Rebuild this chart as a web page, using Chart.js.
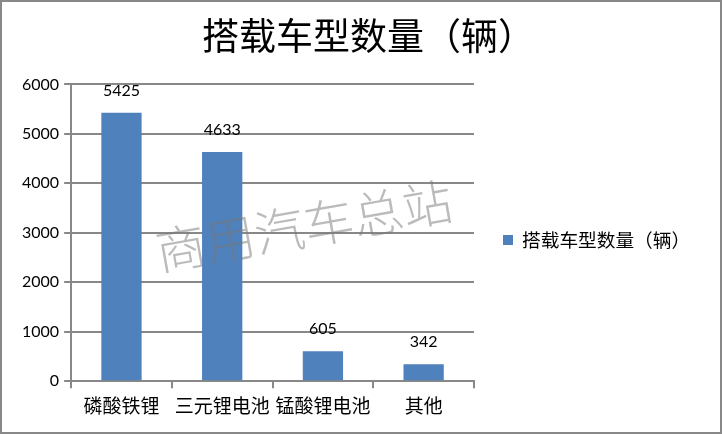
<!DOCTYPE html>
<html>
<head>
<meta charset="utf-8">
<script src="https://cdn.jsdelivr.net/npm/chart.js@4"></script>
<style>
  html, body { margin: 0; padding: 0; background: #fff; }
  #wrap { width: 722px; height: 434px; box-sizing: border-box; border: 2px solid #888; background: #fff; }
</style>
</head>
<body>
<div id="wrap"><canvas id="grafico"></canvas></div>
<script>
const categorias = ["磷酸铁锂", "三元锂电池", "锰酸锂电池", "其他"];
const cantidades = [5425, 4633, 605, 342];
const ticksY = [0, 1000, 2000, 3000, 4000, 5000, 6000];
const titulo = "搭载车型数量（辆）";
const marcaAgua = "商用汽车总站";

const cjk = '"Noto Sans CJK SC", sans-serif';
const num = 'Lato, "Liberation Sans", sans-serif';
const azul = "#4F81BD";

// etiquetas encima de cada barra
const etiquetas = {
  id: "etiquetas",
  afterDatasetsDraw(chart) {
    const ctx = chart.ctx;
    const meta = chart.getDatasetMeta(0);
    ctx.save();
    ctx.font = "16px " + num;
    ctx.fillStyle = "#000";
    ctx.textAlign = "center";
    ctx.textBaseline = "middle";
    meta.data.forEach((bar, i) => {
      ctx.fillText(String(cantidades[i]), bar.x, bar.y - 22);
    });
    ctx.restore();
  }
};

// leyenda a la derecha (la nativa queda recortada por el ancho máximo)
const leyenda = {
  id: "leyenda",
  afterDraw(chart) {
    const ctx = chart.ctx;
    const x = chart.chartArea.right + 29;
    const y = 238;
    ctx.save();
    ctx.fillStyle = azul;
    ctx.fillRect(x, y - 5, 10, 10);
    ctx.font = "18.7px " + cjk;
    ctx.fillStyle = "#000";
    ctx.textAlign = "left";
    ctx.textBaseline = "middle";
    ctx.fillText(chart.data.datasets[0].label, x + 19, y);
    ctx.restore();
  }
};

// marca de agua
const agua = {
  id: "agua",
  afterDraw(chart) {
    const ctx = chart.ctx;
    ctx.save();
    ctx.translate(302, 224);
    ctx.rotate(-10 * Math.PI / 180);
    ctx.font = "300 50px " + cjk;
    ctx.fillStyle = "rgba(120,120,120,0.5)";
    ctx.textAlign = "center";
    ctx.textBaseline = "middle";
    ctx.fillText(marcaAgua, 0, 0);
    ctx.restore();
  }
};

function dibujar() {
  new Chart(document.getElementById("grafico").getContext("2d"), {
    type: "bar",
    data: {
      labels: categorias,
      datasets: [{
        label: titulo,
        data: cantidades,
        backgroundColor: azul,
        categoryPercentage: 1,
        barPercentage: 0.4
      }]
    },
    options: {
      responsive: true,
      maintainAspectRatio: false,
      animation: false,
      layout: { padding: { left: 15, right: 0, top: 0, bottom: 9 } },
      plugins: {
        title: {
          display: true,
          text: titulo,
          color: "#000",
          font: { family: cjk, size: 37, weight: "normal" },
          padding: { top: 12, bottom: 26 }
        },
        legend: { display: false },
        tooltip: { enabled: false }
      },
      scales: {
        x: {
          grid: { drawOnChartArea: false, drawTicks: true, tickLength: 7, color: "#888", lineWidth: 2 },
          border: { color: "#888", width: 2 },
          ticks: { color: "#000", font: { family: cjk, size: 19 }, maxRotation: 0, autoSkip: false, padding: 6 }
        },
        y: {
          min: 0,
          max: 6000,
          afterBuildTicks(axis) { axis.ticks = ticksY.map(v => ({ value: v })); },
          grid: { color: "#888", lineWidth: 2, tickLength: 7 },
          border: { color: "#888", width: 2 },
          ticks: { color: "#000", font: { family: num, size: 16 }, padding: 5, callback: v => String(v) }
        },
        // espacio reservado para la leyenda
        espacio: {
          type: "linear",
          position: "right",
          grid: { display: false },
          border: { display: false },
          ticks: { display: false },
          afterFit(axis) { axis.width = 246; }
        }
      }
    },
    plugins: [etiquetas, leyenda, agua]
  });
}

Promise.all([
  document.fonts.load('18px "Noto Sans CJK SC"', titulo + categorias.join("") + marcaAgua),
  document.fonts.load("16px Lato", "0123456789")
]).then(dibujar, dibujar);
</script>
</body>
</html>
